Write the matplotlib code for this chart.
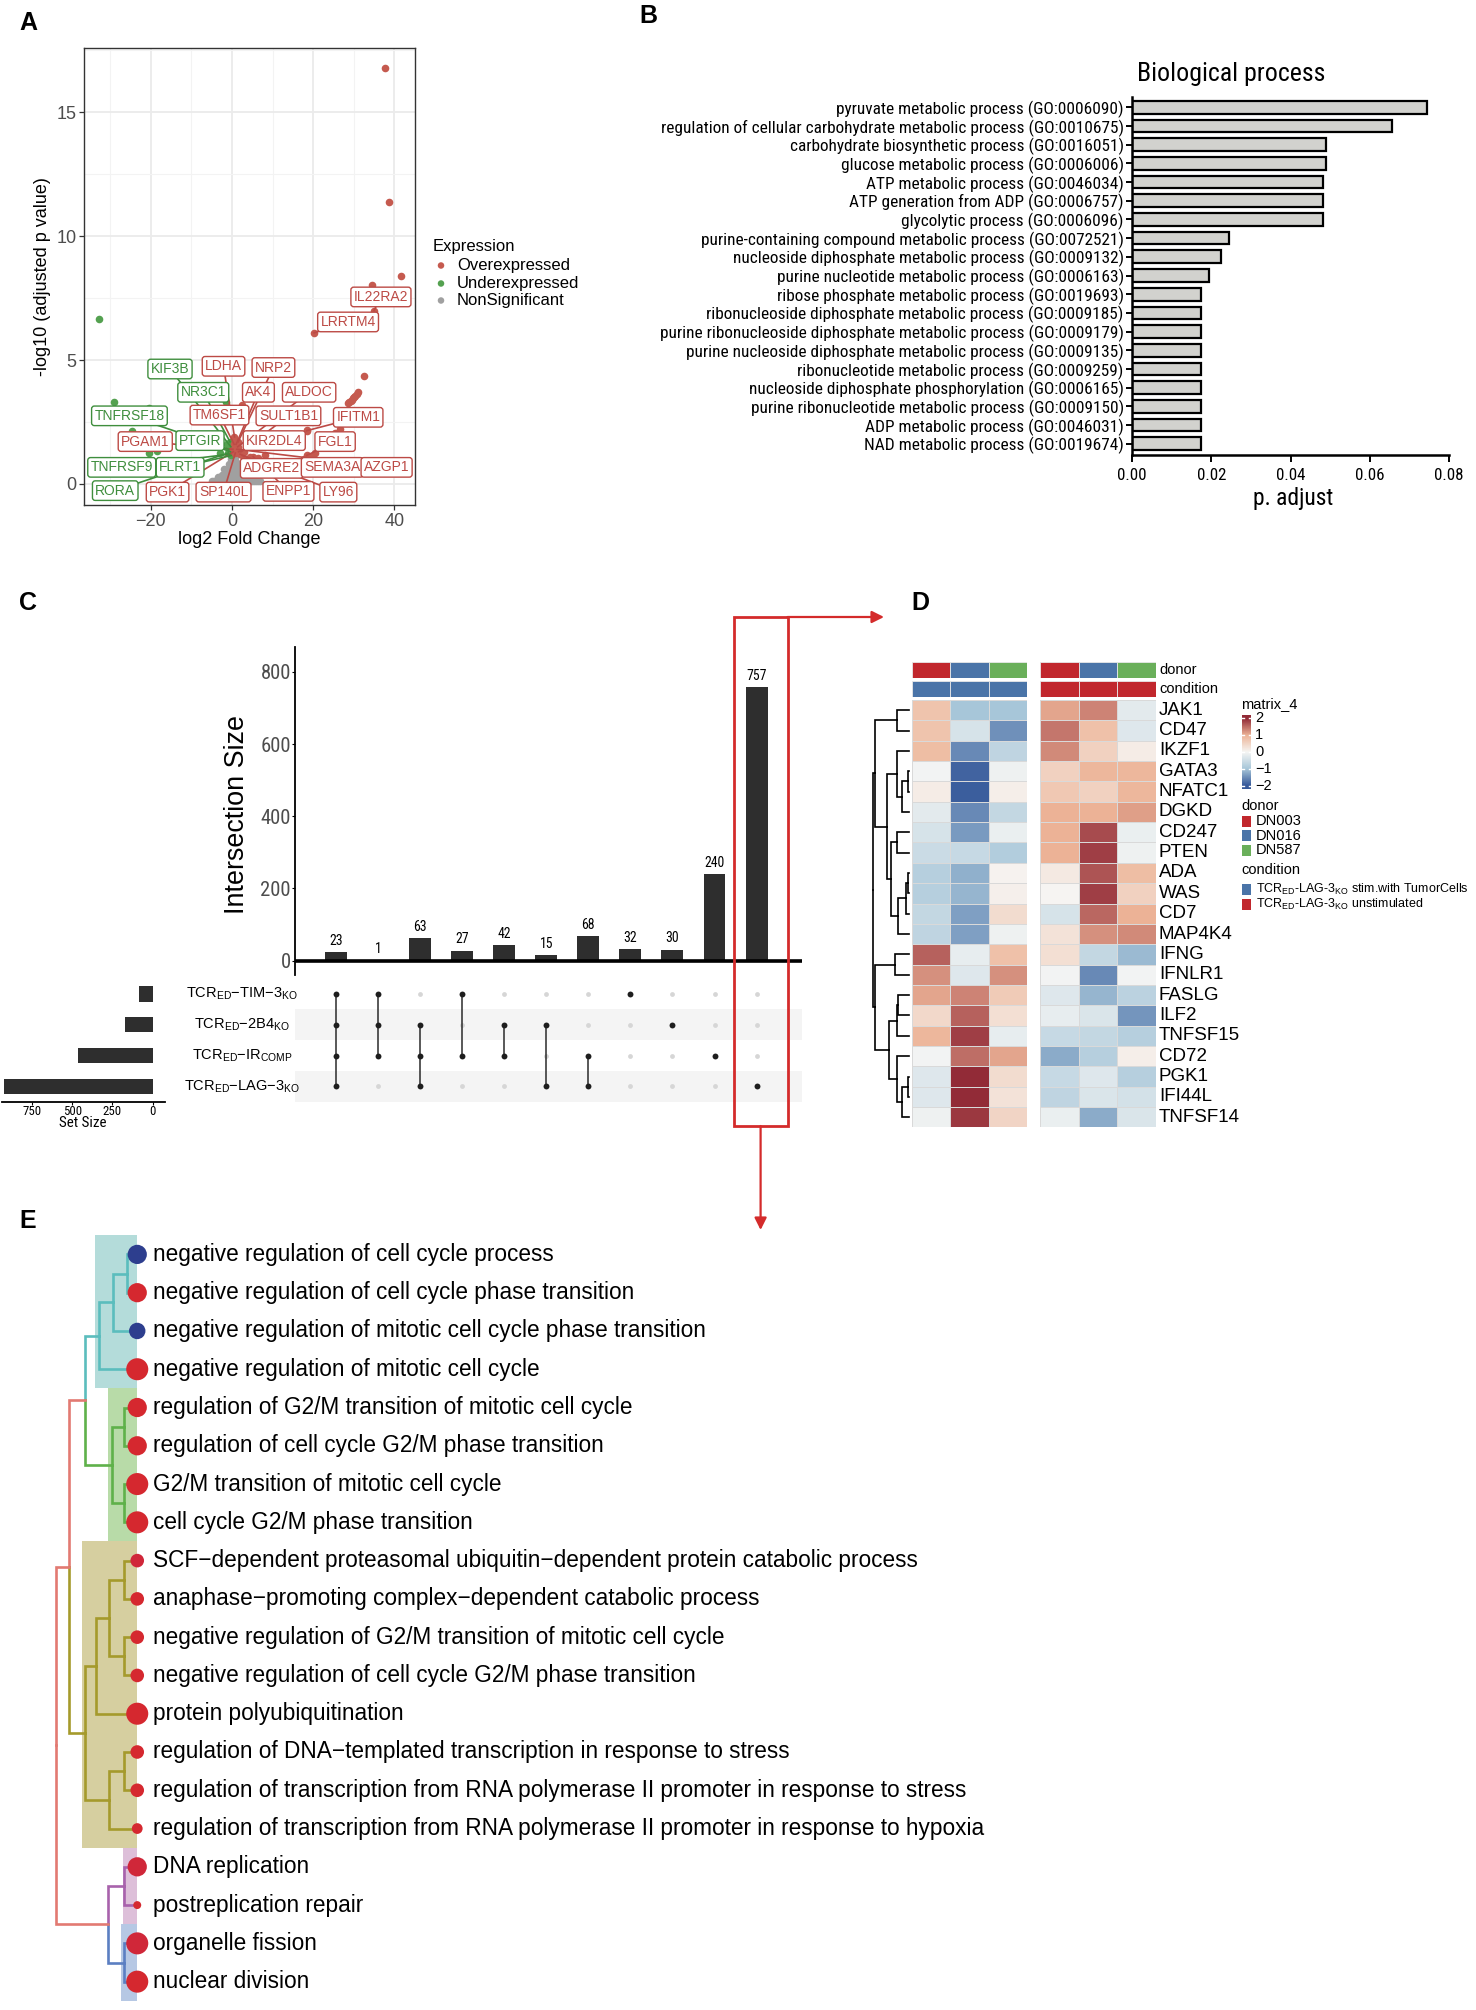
import os
import numpy as np
import matplotlib
matplotlib.use("Agg")
import matplotlib.pyplot as plt
from matplotlib import font_manager as fm
from matplotlib.patches import Rectangle
from matplotlib.colors import LinearSegmentedColormap

# ======================= DATA =======================
# --- Panel A: volcano ---
over_x = [37.8, 38.6, 41.6, 34.6, 32.5, 31.0, 30.7, 30.4, 30.1, 29.8, 29.5, 29.2, 28.9, 28.6,
          25.5, 26.5, 24.5, 20.5, 18.4, 19.2, 8.0, 6.5, 4.5, 3.0, 2.5]
over_y = [16.8, 11.4, 8.4, 8.05, 4.35, 3.7, 3.62, 3.55, 3.5, 3.45, 3.4, 3.35, 3.3, 3.25,
          2.05, 2.2, 1.85, 1.25, 2.18, 1.1, 1.15, 1.05, 1.1, 1.3, 3.2]
under_x = [-32.8, -29.1, -20.5, -24.7, -20.4, -17.0, -18.5, -1.6, -1.2, -3.0]
under_y = [6.64, 3.32, 3.05, 2.15, 1.24, 2.5, 1.35, 3.32, 1.6, 1.25]
ns_x = [-5.0, -4.5, -4.0, -3.5, -3.0, -2.5, -2.0, -1.5, -1.0, -0.5, 0.0, 0.5, 1.0, 1.5, 2.0,
        2.5, 3.0, 3.5, 4.0, 4.5, 5.0, 5.5, 6.0, 6.5, 7.0,
        -3.5, -2.5, -1.5, -0.5, 0.5, 1.5, 2.5, 3.5, 4.5, 5.5,
        -2.0, -1.0, 0.0, 1.0, 2.0, 3.0, 4.0,
        -0.8, 0.2, 1.2, 2.2, -0.2, 0.7]
ns_y = [0.12, 0.12, 0.12, 0.12, 0.12, 0.12, 0.12, 0.12, 0.12, 0.12, 0.12, 0.12, 0.12, 0.12, 0.12,
        0.12, 0.12, 0.12, 0.12, 0.12, 0.12, 0.12, 0.12, 0.12, 0.12,
        0.3, 0.38, 0.38, 0.38, 0.38, 0.38, 0.38, 0.38, 0.35, 0.3,
        0.6, 0.62, 0.62, 0.62, 0.62, 0.6, 0.55,
        0.82, 0.85, 0.85, 0.8, 1.02, 1.05]
up_genes = ['IL22RA2', 'LRRTM4', 'LDHA', 'NRP2', 'AK4', 'ALDOC', 'TM6SF1', 'SULT1B1', 'IFITM1',
            'PGAM1', 'KIR2DL4', 'FGL1', 'ADGRE2', 'SEMA3A', 'AZGP1', 'PGK1', 'SP140L', 'ENPP1', 'LY96']
up_x = [35.0, 20.2, 0.6, 1.5, 1.0, 1.4, 0.5, 2.2, 18.4, 0.2, 1.6, 18.4, 2.0, 17.8, 1.2, 0.3, 0.8, 5.2, 2.5]
up_y = [7.0, 6.1, 1.9, 1.7, 1.6, 1.5, 1.6, 1.3, 2.15, 1.4, 1.3, 1.15, 1.2, 1.0, 1.4, 1.3, 1.25, 1.1, 1.15]
down_genes = ['KIF3B', 'NR3C1', 'TNFRSF18', 'PTGIR', 'TNFRSF9', 'FLRT1', 'RORA']
down_x = [-0.3, -0.5, -0.8, -0.4, -0.6, -0.2, -0.9]
down_y = [1.5, 1.7, 1.4, 1.3, 1.2, 1.15, 1.25]
expr_levels = ['Overexpressed', 'Underexpressed', 'NonSignificant']

# --- Panel B: GO biological process ---
bp_terms = [
    "pyruvate metabolic process (GO:0006090)",
    "regulation of cellular carbohydrate metabolic process (GO:0010675)",
    "carbohydrate biosynthetic process (GO:0016051)",
    "glucose metabolic process (GO:0006006)",
    "ATP metabolic process (GO:0046034)",
    "ATP generation from ADP (GO:0006757)",
    "glycolytic process (GO:0006096)",
    "purine-containing compound metabolic process (GO:0072521)",
    "nucleoside diphosphate metabolic process (GO:0009132)",
    "purine nucleotide metabolic process (GO:0006163)",
    "ribose phosphate metabolic process (GO:0019693)",
    "ribonucleoside diphosphate metabolic process (GO:0009185)",
    "purine ribonucleoside diphosphate metabolic process (GO:0009179)",
    "purine nucleoside diphosphate metabolic process (GO:0009135)",
    "ribonucleotide metabolic process (GO:0009259)",
    "nucleoside diphosphate phosphorylation (GO:0006165)",
    "purine ribonucleotide metabolic process (GO:0009150)",
    "ADP metabolic process (GO:0046031)",
    "NAD metabolic process (GO:0019674)"]
bp_padj = [0.0745, 0.0656, 0.0489, 0.0489, 0.0482, 0.0482, 0.0482, 0.0246, 0.0225, 0.0194,
           0.0173, 0.0173, 0.0173, 0.0173, 0.0173, 0.0173, 0.0173, 0.0173, 0.0173]
bp_xticks = [0.00, 0.02, 0.04, 0.06, 0.08]

# --- Panel C: UpSet ---
set_labels = [r'TCR$_{\mathrm{ED}}$−TIM−3$_{\mathrm{KO}}$',
              r'TCR$_{\mathrm{ED}}$−2B4$_{\mathrm{KO}}$',
              r'TCR$_{\mathrm{ED}}$−IR$_{\mathrm{COMP}}$',
              r'TCR$_{\mathrm{ED}}$−LAG−3$_{\mathrm{KO}}$']
inter_sizes = [23, 1, 63, 27, 42, 15, 68, 32, 30, 240, 757]
membership = [[1, 1, 0, 1, 0, 0, 0, 1, 0, 0, 0],   # TIM-3
              [1, 1, 1, 0, 1, 1, 0, 0, 1, 0, 0],   # 2B4
              [1, 1, 1, 1, 1, 0, 1, 0, 0, 1, 0],   # IR
              [1, 0, 1, 0, 0, 1, 1, 0, 0, 0, 1]]   # LAG-3
set_sizes = list(np.array(membership) @ np.array(inter_sizes))
inter_yticks = [0, 200, 400, 600, 800]
setsize_ticks = [750, 500, 250, 0]

# --- Panel D: heatmap ---
genes_D = ['JAK1', 'CD47', 'IKZF1', 'GATA3', 'NFATC1', 'DGKD', 'CD247', 'PTEN', 'ADA', 'WAS', 'CD7',
           'MAP4K4', 'IFNG', 'IFNLR1', 'FASLG', 'ILF2', 'TNFSF15', 'CD72', 'PGK1', 'IFI44L', 'TNFSF14']
heat_stim = [[0.75, -1.0, -1.0], [0.75, -0.4, -1.5], [0.85, -1.55, -0.7], [-0.05, -1.9, -0.1],
             [0.15, -1.95, 0.12], [-0.25, -1.55, -0.65], [-0.4, -1.4, -0.15], [-0.55, -0.6, -0.85],
             [-0.8, -1.2, 0.05], [-0.8, -1.15, 0.1], [-0.65, -1.35, 0.4], [-0.7, -1.35, -0.1],
             [1.6, -0.2, 0.8], [1.25, -0.3, 1.25], [1.1, 1.35, 0.65], [0.45, 1.6, 0.35],
             [0.95, 1.85, -0.2], [-0.05, 1.5, 1.1], [-0.3, 2.05, 0.4], [-0.3, 2.2, 0.3], [-0.1, 1.9, 0.5]]
heat_unstim = [[1.1, 1.35, -0.25], [1.45, 0.8, -0.3], [1.3, 0.55, 0.15], [0.55, 0.95, 0.95],
               [0.7, 0.55, 0.95], [1.0, 1.0, 1.15], [1.0, 1.75, -0.15], [1.0, 1.85, -0.1],
               [0.2, 1.7, 0.85], [0.02, 1.85, 0.55], [-0.4, 1.55, 1.0], [0.3, 1.25, 1.3],
               [0.35, -0.65, -1.1], [-0.05, -1.55, -0.05], [-0.3, -1.15, -0.75], [-0.2, -0.35, -1.45],
               [-0.6, -0.65, -0.8], [-1.25, -0.8, 0.12], [-0.6, -0.3, -0.8], [-0.7, -0.35, -0.45],
               [-0.15, -1.25, -0.35]]
donors = ['DN003', 'DN016', 'DN587']
conditions = [r'TCR$_{\mathrm{ED}}$-LAG-3$_{\mathrm{KO}}$ stim.with TumorCells',
              r'TCR$_{\mathrm{ED}}$-LAG-3$_{\mathrm{KO}}$ unstimulated']
# row dendrogram: (left, right, height)
tree_D = (((0, 1, 0.33), ((2, ((3, 4, 0.05), 5, 0.2), 0.35),
                          ((6, 7, 0.35), (((8, 9, 0.05), 10, 0.1), 11, 0.3), 0.5), 0.62), 0.95),
          ((12, 13, 0.38), (((14, 15, 0.3), 16, 0.35), (17, ((18, 19, 0.05), 20, 0.2), 0.35), 0.55), 0.93),
          1.0)
cbar_ticks = [2, 1, 0, -1, -2]

# --- Panel E: GO tree ---
e_terms = [
    "negative regulation of cell cycle process",
    "negative regulation of cell cycle phase transition",
    "negative regulation of mitotic cell cycle phase transition",
    "negative regulation of mitotic cell cycle",
    "regulation of G2/M transition of mitotic cell cycle",
    "regulation of cell cycle G2/M phase transition",
    "G2/M transition of mitotic cell cycle",
    "cell cycle G2/M phase transition",
    "SCF−dependent proteasomal ubiquitin−dependent protein catabolic process",
    "anaphase−promoting complex−dependent catabolic process",
    "negative regulation of G2/M transition of mitotic cell cycle",
    "negative regulation of cell cycle G2/M phase transition",
    "protein polyubiquitination",
    "regulation of DNA−templated transcription in response to stress",
    "regulation of transcription from RNA polymerase II promoter in response to stress",
    "regulation of transcription from RNA polymerase II promoter in response to hypoxia",
    "DNA replication",
    "postreplication repair",
    "organelle fission",
    "nuclear division"]
e_cluster = [0, 0, 0, 0, 1, 1, 1, 1, 2, 2, 2, 2, 2, 2, 2, 2, 3, 3, 4, 4]
e_count = [5, 5, 4, 6, 5, 5, 6, 6, 3, 3, 3, 3, 6, 3, 3, 2, 5, 1, 6, 6]
e_colval = [1, 0, 1, 0, 0, 0, 0, 0, 0.15, 0, 0, 0, 0, 0, 0, 0, 0.15, 0, 0.15, 0]
tree_E = (((((((0, 1, 8), 2, 19), 3, 30), ((4, 5, 10), (6, 7, 10), 20), 41),
            ((((8, 9, 10), (10, 11, 10), 22), 12, 32), (((13, 14, 10), 15, 22)), 41), 53),
           ((16, 17, 10), (18, 19, 10), 23), 63))

# ======================= FONTS =======================
def has_font(name):
    try:
        fm.findfont(fm.FontProperties(family=name), fallback_to_default=False)
        return True
    except Exception:
        return False


def find_condensed():
    prefs = ['liberation sans narrow', 'liberationsansnarrow', 'arial narrow', 'arialnarrow',
             'roboto condensed', 'robotocondensed', 'open sans condensed', 'opensanscondensed',
             'opensans_condensed', 'opensans-condensed', 'notosans-condensed', 'notosanscondensed',
             'noto sans condensed', 'dejavusanscondensed', 'dejavu sans condensed']
    bad = ['bold', 'italic', 'oblique', 'light', 'medium', 'semi', 'thin', 'black', 'extra', 'heavy', 'mono']
    entries = []
    for f in fm.fontManager.ttflist:
        base = os.path.basename(f.fname).lower()
        if f.style != 'normal' or any(b in base for b in bad):
            continue
        entries.append(((f.name.lower() + '|' + base), f))
    for p in prefs:
        for key, f in entries:
            if p in key or p in key.replace(' ', ''):
                return f.fname
    return None


SANS = 'Liberation Sans' if has_font('Liberation Sans') else 'DejaVu Sans'
_cf = find_condensed()
NARROW_BASE = fm.FontProperties(fname=_cf) if _cf else fm.FontProperties(family=SANS)


def NP(size):
    p = NARROW_BASE.copy()
    p.set_size(size)
    return p


plt.rcParams['font.family'] = [SANS, 'DejaVu Sans']
plt.rcParams['mathtext.fontset'] = 'custom'
plt.rcParams['mathtext.rm'] = SANS
plt.rcParams['mathtext.it'] = SANS + ':italic'
plt.rcParams['mathtext.bf'] = SANS + ':bold'

W, H = 1476, 2010
fig = plt.figure(figsize=(W / 100, H / 100), dpi=100)
R = fig.canvas.get_renderer()


def add_ax(x0, y0, x1, y1):
    return fig.add_axes([x0 / W, 1 - y1 / H, (x1 - x0) / W, (y1 - y0) / H])


def ftext(x, y, s, **kw):
    return fig.text(x / W, 1 - y / H, s, **kw)


def fit(s, target, narrow=False, base=10.0, **kw):
    if narrow:
        t = fig.text(0, 0, s, fontproperties=NP(base), **kw)
    else:
        t = fig.text(0, 0, s, fontsize=base, **kw)
    w = t.get_window_extent(R).width
    t.remove()
    return base * target / w


RED_PT, GRN_PT, GRY_PT = '#C55A4F', '#54A150', '#A0A0A0'
RED_LB, GRN_LB = '#BC4A45', '#3F8E3D'

# panel letters
for letter, (x, y) in zip('ABCDE', [(28, 23), (648, 16), (28, 603), (920, 603), (28, 1221)]):
    ftext(x, y, letter, fontsize=18, fontweight='bold', ha='center', va='center')

# ======================= PANEL A =======================
axA = add_ax(84, 48, 415, 505)
axA.set_xlim(-36.5, 45.1)
axA.set_ylim(-0.85, 17.6)
axA.set_xticks([-20, 0, 20, 40])
axA.set_xticks([-30, -10, 10, 30], minor=True)
axA.set_yticks([0, 5, 10, 15])
axA.set_yticks([2.5, 7.5, 12.5, 17.5], minor=True)
axA.grid(which='major', color='#EBEBEB', lw=1.3)
axA.grid(which='minor', color='#F3F3F3', lw=0.8)
axA.set_axisbelow(True)
axA.tick_params(which='major', length=3.5, width=0.9, color='#333333', labelcolor='#4D4D4D',
                labelsize=13, pad=2)
axA.tick_params(which='minor', length=0)
for sp in axA.spines.values():
    sp.set_color('#333333'); sp.set_linewidth(1.0)
axA.set_xlabel('log2 Fold Change', fontsize=13, labelpad=1)
axA.set_ylabel('-log10 (adjusted p value)', fontsize=13, labelpad=4)

PT_S = 30
axA.scatter(ns_x, ns_y, s=PT_S, color=GRY_PT, lw=0, zorder=2)
axA.scatter(under_x + down_x, under_y + down_y, s=PT_S, color=GRN_PT, lw=0, zorder=2)
axA.scatter(over_x + up_x, over_y + up_y, s=PT_S, color=RED_PT, lw=0, zorder=2)

lab_pos = {'IL22RA2': (36.7, 7.55), 'LRRTM4': (28.6, 6.54), 'LDHA': (-2.1, 4.75), 'NRP2': (10.2, 4.7),
           'AK4': (6.5, 3.7), 'ALDOC': (19.0, 3.7), 'TM6SF1': (-3.1, 2.78), 'SULT1B1': (13.9, 2.75),
           'IFITM1': (31.1, 2.69), 'PGAM1': (-21.4, 1.71), 'KIR2DL4': (10.4, 1.75), 'FGL1': (25.4, 1.71),
           'ADGRE2': (9.8, 0.63), 'SEMA3A': (24.7, 0.67), 'AZGP1': (38.1, 0.67), 'PGK1': (-15.9, -0.33),
           'SP140L': (-2.1, -0.33), 'ENPP1': (13.9, -0.3), 'LY96': (26.2, -0.33),
           'KIF3B': (-15.3, 4.64), 'NR3C1': (-7.1, 3.7), 'TNFRSF18': (-25.3, 2.75), 'PTGIR': (-7.9, 1.75),
           'TNFRSF9': (-27.2, 0.67), 'FLRT1': (-12.8, 0.67), 'RORA': (-28.8, -0.27)}
for genes, xs, ys, lc in [(up_genes, up_x, up_y, RED_LB), (down_genes, down_x, down_y, GRN_LB)]:
    for g, px, py in zip(genes, xs, ys):
        lx, ly = lab_pos[g]
        axA.plot([px, lx], [py, ly], color=lc, lw=1.2, zorder=3)
for genes, lc in [(up_genes, RED_LB), (down_genes, GRN_LB)]:
    for g in genes:
        lx, ly = lab_pos[g]
        axA.text(lx, ly, g, ha='center', va='center', fontsize=10, color=lc, zorder=5,
                 bbox=dict(boxstyle='round,pad=0.2,rounding_size=0.2', fc='white', ec=lc, lw=1.0))

# legend A
ftext(433, 246, 'Expression', fontsize=12, va='center', ha='left')
for lbl, y in zip(expr_levels, [265.5, 283.5, 300.5]):
    ftext(457, y, lbl, fontsize=12, va='center', ha='left')

# ======================= PANEL B =======================
axB = add_ax(1132, 97, 1449, 455)
yb = np.arange(len(bp_terms))
axB.barh(yb, bp_padj, height=0.68, color='#D2D2CE', edgecolor='black', lw=1.6, zorder=2)
axB.set_ylim(18.6, -0.55)
axB.set_xlim(0, 0.08)
fsB = fit(bp_terms[1], 459, narrow=True)
axB.set_yticks(yb)
axB.set_yticklabels(bp_terms, fontproperties=NP(fsB))
axB.set_xticks(bp_xticks)
fsBx = fit('0.00', 29, narrow=True)
axB.set_xticklabels(['%.2f' % v for v in bp_xticks], fontproperties=NP(fsBx))
axB.tick_params(axis='y', length=4, width=1.4, pad=2)
axB.tick_params(axis='x', length=5, width=1.4, pad=4)
for s in ['top', 'right']:
    axB.spines[s].set_visible(False)
for s in ['left', 'bottom']:
    axB.spines[s].set_linewidth(1.8)
ftext(1231, 74, 'Biological process', ha='center', va='center',
      fontproperties=NP(fit('Biological process', 188, narrow=True)))
ftext(1293, 498, 'p. adjust', ha='center', va='center',
      fontproperties=NP(fit('p. adjust', 80, narrow=True)))

# ======================= PANEL C =======================
XL = (-0.97, 11.07)
axC = add_ax(295, 646.7, 801.6, 975)
xi = np.arange(len(inter_sizes))
axC.bar(xi, inter_sizes, width=0.52, color='#2E2E2E', zorder=2)
axC.set_xlim(*XL)
axC.set_ylim(-40, 870)
axC.axhline(0, color='black', lw=2.6, zorder=3)
for s in ['top', 'right', 'bottom']:
    axC.spines[s].set_visible(False)
axC.spines['left'].set_linewidth(1.3)
axC.set_xticks([])
axC.set_yticks(inter_yticks)
axC.set_yticklabels([str(v) for v in inter_yticks], fontproperties=NP(fit('800', 30, narrow=True)),
                    color='#4D4D4D')
axC.tick_params(axis='y', length=2, width=0.8, pad=1)
fsN = fit('757', 20.5, narrow=True)
for i, v in zip(xi, inter_sizes):
    axC.text(i, v + 12, str(v), ha='center', va='bottom', fontproperties=NP(fsN))
ftext(237, 815, 'Intersection Size', rotation=90, ha='center', va='center',
      fontsize=fit('Intersection Size', 199))

axM = add_ax(295, 978.6, 801.6, 1101.8)
axM.set_xlim(*XL)
axM.set_ylim(3.5, -0.5)
axM.axis('off')
for r in (1, 3):
    axM.axhspan(r - 0.5, r + 0.5, color='#F4F4F4', lw=0, zorder=0)
mem = np.array(membership)
for j in range(mem.shape[1]):
    act = np.where(mem[:, j] == 1)[0]
    ina = np.where(mem[:, j] == 0)[0]
    axM.scatter([j] * len(ina), ina, s=12, color='#D6D6D6', lw=0, zorder=2)
    if len(act) > 1:
        axM.plot([j, j], [act.min(), act.max()], color='#2B2B2B', lw=1.1, zorder=2)
    axM.scatter([j] * len(act), act, s=18, color='#1E1E1E', lw=0, zorder=3, marker='o')

axS = add_ax(2.3, 978.6, 165.5, 1101.8)
axS.barh(np.arange(4), set_sizes, height=0.5, color='#2E2E2E')
axS.set_xlim(935, -80)
axS.set_ylim(3.5, -0.5)
axS.set_yticks([])
axS.set_xticks(setsize_ticks)
axS.set_xticklabels([str(v) for v in setsize_ticks], fontproperties=NP(fit('750', 19, narrow=True)))
axS.tick_params(axis='x', length=2, width=0.8, pad=0.5)
for s in ['top', 'right', 'left']:
    axS.spines[s].set_visible(False)
axS.spines['bottom'].set_linewidth(1.3)
ftext(83, 1123, 'Set Size', ha='center', va='center', fontproperties=NP(fit('Set Size', 47, narrow=True)))
for r, lbl in enumerate(set_labels):
    ftext(242, 994 + 30.8 * r, lbl, ha='center', va='center', fontsize=10.5)

# ======================= PANEL D =======================
cmapD = LinearSegmentedColormap.from_list('hm', [(0, '#36599A'), (0.25, '#A7C6D9'), (0.5, '#F6F6F4'),
                                                 (0.75, '#EDB497'), (1.0, '#922B37')])
DONOR_COL = {'DN003': '#C1272D', 'DN016': '#4A74A8', 'DN587': '#6AAF5A'}
COND_COL = ['#4A74A8', '#C1272D']
HT, HB = 700, 1127.4
for (x0, x1), mat, cc in [((912, 1027.4), heat_stim, COND_COL[0]), ((1040.2, 1155.6), heat_unstim, COND_COL[1])]:
    ax = add_ax(x0, HT, x1, HB)
    ax.pcolormesh(np.array(mat), cmap=cmapD, vmin=-2, vmax=2, edgecolors='#D9D9D9', linewidth=0.6)
    ax.set_ylim(len(genes_D), 0)
    ax.set_xlim(0, 3)
    ax.axis('off')
    axd = add_ax(x0, 662, x1, 678.5)
    for j, d in enumerate(donors):
        axd.add_patch(Rectangle((j, 0), 1, 1, fc=DONOR_COL[d], ec='#E8E8E8', lw=0.6))
    axd.set_xlim(0, 3); axd.set_ylim(0, 1); axd.axis('off')
    axc = add_ax(x0, 681, x1, 696.5)
    for j in range(3):
        axc.add_patch(Rectangle((j, 0), 1, 1, fc=cc, ec='#E8E8E8', lw=0.6))
    axc.set_xlim(0, 3); axc.set_ylim(0, 1); axc.axis('off')

rowh = (HB - HT) / len(genes_D)
for i, g in enumerate(genes_D):
    ftext(1159, HT + rowh * (i + 0.5), g, fontsize=13.5, va='center', ha='left')
ftext(1159, 670, 'donor', fontsize=10.5, va='center')
ftext(1159, 689, 'condition', fontsize=10.5, va='center')


def leaves_of(n):
    return [n] if isinstance(n, int) else leaves_of(n[0]) + leaves_of(n[1])


def draw_tree(ax, n, sign, colfn, lw, yfun):
    if isinstance(n, int):
        return yfun(n), 0.0
    ya, ha_ = draw_tree(ax, n[0], sign, colfn, lw, yfun)
    yb_, hb_ = draw_tree(ax, n[1], sign, colfn, lw, yfun)
    h = n[2]
    y = (ya + yb_) / 2
    for yc, hc, child in [(ya, ha_, n[0]), (yb_, hb_, n[1])]:
        ax.plot([sign * h, sign * h, sign * hc], [y, yc, yc], color=colfn(child), lw=lw,
                solid_capstyle='projecting', solid_joinstyle='miter')
    return y, h


axDd = add_ax(872, HT, 912, HB)
draw_tree(axDd, tree_D, 1, lambda c: 'black', 1.2, lambda i: i + 0.5)
axDd.set_xlim(1.02, -0.07)
axDd.set_ylim(len(genes_D), 0)
axDd.axis('off')

# legend D
ftext(1241, 704, 'matrix_4', fontsize=10.5, va='center')
axCb = add_ax(1241.6, 715, 1250.5, 789)
grad = np.linspace(-2.2, 2.2, 256).reshape(-1, 1)
axCb.imshow(grad, cmap=cmapD, vmin=-2, vmax=2, aspect='auto', origin='lower', extent=[0, 1, -2.2, 2.2])
for t in cbar_ticks:
    axCb.plot([0, 0.22], [t, t], color='white', lw=1.0)
    axCb.plot([0.78, 1], [t, t], color='white', lw=1.0)
axCb.set_xlim(0, 1); axCb.set_ylim(-2.2, 2.2); axCb.axis('off')
for t in cbar_ticks:
    yy = 715 + (2.2 - t) / 4.4 * 74
    ftext(1255, yy, str(t).replace('-', '−'), fontsize=10.5, va='center')
ftext(1241, 805.5, 'donor', fontsize=10.5, va='center')
for k, d in enumerate(donors):
    yy = 821 + 14.7 * k
    ftext(1256, yy, d, fontsize=10.5, va='center')
ftext(1241, 869.5, 'condition', fontsize=10.5, va='center')
fsCond = min(10.5, fit(conditions[0], 212))
for k, c in enumerate(conditions):
    yy = 889 + 15.4 * k
    ftext(1256, yy, c, fontsize=fsCond, va='center')

# ======================= PANEL E =======================
LINE_C = ['#5BBDBD', '#5FB14A', '#A59A2C', '#A862AC', '#5B7FC2']
BOX_C = ['#B4DCDA', '#B8DBA8', '#D6CFA0', '#DDBFD9', '#B6C8E4']
BOX_L = [33, 23, 43, 11, 13]
ROOT_C = '#E27A72'
axE = add_ax(40, 1235, 1476, 2005)
axE.set_xlim(-75.8, 1043.6)
axE.set_ylim(19.61, -0.507)
axE.axis('off')
ec = np.array(e_cluster)
for k in range(5):
    rows = np.where(ec == k)[0]
    axE.add_patch(Rectangle((-BOX_L[k], rows.min() - 0.5), BOX_L[k], len(rows), fc=BOX_C[k], lw=0, zorder=0))


def colE(n):
    cl = set(e_cluster[i] for i in leaves_of(n))
    return LINE_C[cl.pop()] if len(cl) == 1 else ROOT_C


draw_tree(axE, tree_E, -1, colE, 1.9, lambda i: i)
cmapE = LinearSegmentedColormap.from_list('e', ['#D5282F', '#C42452', '#2D3E8E'])
sizes = [((4 + 2.2 * c) * 1.2826 * 0.72) ** 2 for c in e_count]
axE.scatter(np.zeros(len(e_terms)), np.arange(len(e_terms)), s=sizes, c=e_colval, cmap=cmapE,
            vmin=0, vmax=1, lw=0, zorder=5)
fsE = fit(e_terms[15], 834)
for i, t in enumerate(e_terms):
    axE.text(12, i, t, va='center', ha='left', fontsize=fsE)

# ======================= OVERLAY (legend markers, box, arrows) =======================
ov = fig.add_axes([0, 0, 1, 1], zorder=50)
ov.set_xlim(0, W); ov.set_ylim(H, 0)
ov.axis('off'); ov.patch.set_visible(False)
ov.scatter([441] * 3, [265.5, 283.5, 300.5], s=22, c=[RED_PT, GRN_PT, GRY_PT], lw=0)
for k, d in enumerate(donors):
    ov.add_patch(Rectangle((1241.6, 821 + 14.7 * k - 5.5), 9, 11, fc=DONOR_COL[d], lw=0))
for k in range(2):
    ov.add_patch(Rectangle((1241.6, 889 + 15.4 * k - 5.5), 9, 11, fc=COND_COL[k], lw=0))
BOXRED = '#D42B2B'
ov.add_patch(Rectangle((733.6, 617), 53.9, 509, fill=False, ec=BOXRED, lw=2.0))
ov.annotate('', xy=(884, 617), xytext=(787.5, 617),
            arrowprops=dict(arrowstyle='-|>', color=BOXRED, lw=1.6, mutation_scale=18, shrinkA=0, shrinkB=0))
ov.annotate('', xy=(760.6, 1230), xytext=(760.6, 1126),
            arrowprops=dict(arrowstyle='-|>', color=BOXRED, lw=1.6, mutation_scale=18, shrinkA=0, shrinkB=0))

fig.savefig('out.png', dpi=100)
